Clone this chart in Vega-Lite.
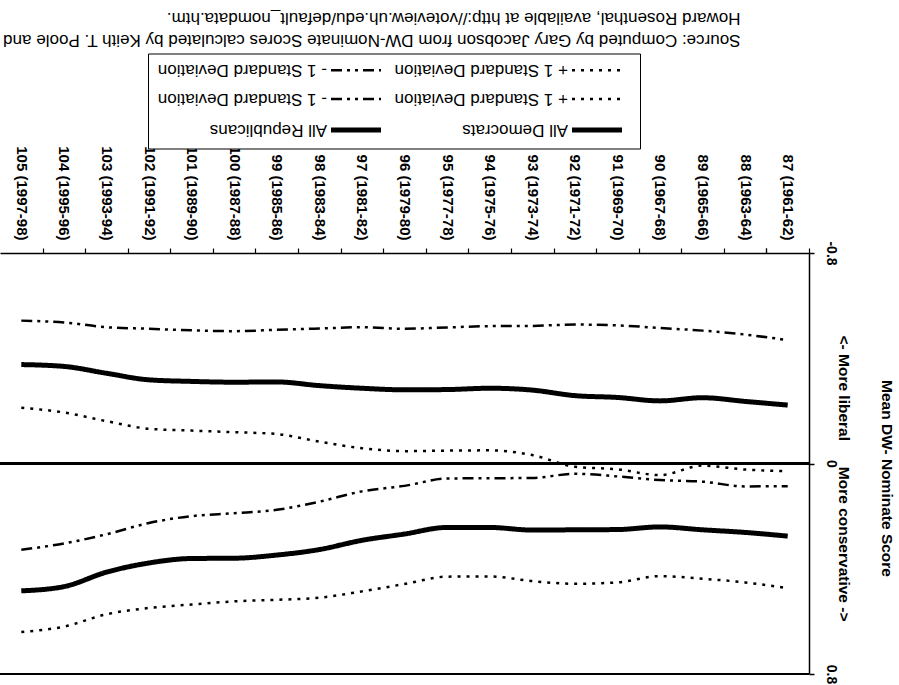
{
  "$schema": "https://vega.github.io/schema/vega-lite/v6.json",
  "width": 809,
  "height": 421,
  "autosize": "none",
  "padding": {"left": 0, "top": 253, "right": 90, "bottom": 11},
  "background": "white",
  "config": {"view": {"stroke": null}, "font": "Liberation Sans"},
  "data": {
    "values": [
      {"congress": "87 (1961-62)", "D": -0.222, "Dp": 0.029, "Dm": -0.469, "R": 0.276, "Rp": 0.474, "Rm": 0.086},
      {"congress": "88 (1963-64)", "D": -0.236, "Dp": 0.023, "Dm": -0.49, "R": 0.262, "Rp": 0.452, "Rm": 0.087},
      {"congress": "89 (1965-66)", "D": -0.25, "Dp": 0.008, "Dm": -0.505, "R": 0.252, "Rp": 0.438, "Rm": 0.069},
      {"congress": "90 (1967-68)", "D": -0.238, "Dp": 0.044, "Dm": -0.515, "R": 0.241, "Rp": 0.428, "Rm": 0.063},
      {"congress": "91 (1969-70)", "D": -0.251, "Dp": 0.022, "Dm": -0.525, "R": 0.251, "Rp": 0.452, "Rm": 0.049},
      {"congress": "92 (1971-72)", "D": -0.258, "Dp": 0.012, "Dm": -0.528, "R": 0.252, "Rp": 0.457, "Rm": 0.039},
      {"congress": "93 (1973-74)", "D": -0.279, "Dp": -0.032, "Dm": -0.523, "R": 0.253, "Rp": 0.447, "Rm": 0.055},
      {"congress": "94 (1975-76)", "D": -0.286, "Dp": -0.05, "Dm": -0.522, "R": 0.243, "Rp": 0.429, "Rm": 0.056},
      {"congress": "95 (1977-78)", "D": -0.281, "Dp": -0.049, "Dm": -0.517, "R": 0.243, "Rp": 0.43, "Rm": 0.057},
      {"congress": "96 (1979-80)", "D": -0.28, "Dp": -0.047, "Dm": -0.512, "R": 0.268, "Rp": 0.458, "Rm": 0.085},
      {"congress": "97 (1981-82)", "D": -0.286, "Dp": -0.058, "Dm": -0.518, "R": 0.292, "Rp": 0.486, "Rm": 0.106},
      {"congress": "98 (1983-84)", "D": -0.296, "Dp": -0.083, "Dm": -0.513, "R": 0.327, "Rp": 0.51, "Rm": 0.145},
      {"congress": "99 (1985-86)", "D": -0.31, "Dp": -0.112, "Dm": -0.508, "R": 0.348, "Rp": 0.518, "Rm": 0.176},
      {"congress": "100 (1987-88)", "D": -0.309, "Dp": -0.119, "Dm": -0.503, "R": 0.36, "Rp": 0.524, "Rm": 0.189},
      {"congress": "101 (1989-90)", "D": -0.312, "Dp": -0.125, "Dm": -0.506, "R": 0.361, "Rp": 0.536, "Rm": 0.2},
      {"congress": "102 (1991-92)", "D": -0.318, "Dp": -0.132, "Dm": -0.512, "R": 0.378, "Rp": 0.549, "Rm": 0.226},
      {"congress": "103 (1993-94)", "D": -0.343, "Dp": -0.161, "Dm": -0.518, "R": 0.413, "Rp": 0.573, "Rm": 0.269},
      {"congress": "104 (1995-96)", "D": -0.369, "Dp": -0.194, "Dm": -0.536, "R": 0.468, "Rp": 0.62, "Rm": 0.304},
      {"congress": "105 (1997-98)", "D": -0.376, "Dp": -0.212, "Dm": -0.543, "R": 0.484, "Rp": 0.64, "Rm": 0.328}
    ]
  },
  "layer": [
    {
      "mark": {"type": "rule", "color": "black", "strokeWidth": 1.5},
      "encoding": {
        "y": {"datum": 0, "type": "quantitative", "scale": {"domain": [-0.8, 0.8], "reverse": true, "nice": false, "zero": false}}
      }
    },
    {
      "mark": {"type": "rule", "color": "black", "strokeWidth": 1.5},
      "encoding": {
        "y": {"datum": 0.8, "type": "quantitative", "scale": {"domain": [-0.8, 0.8], "reverse": true, "nice": false, "zero": false}}
      }
    },
    {
      "transform": [{"fold": ["D", "R", "Dp", "Dm", "Rp", "Rm"], "as": ["series", "score"]}],
      "mark": {"type": "line", "color": "black", "interpolate": "monotone", "strokeCap": "butt"},
      "encoding": {
        "x": {
          "field": "congress",
          "type": "ordinal",
          "sort": null,
          "bandPosition": 0.5,
          "scale": {"type": "band", "paddingInner": 0, "paddingOuter": 0, "reverse": true},
          "axis": {
            "orient": "top",
            "ticks": true,
            "tickBand": "extent",
            "grid": false,
            "domain": true,
            "domainColor": "black",
            "domainWidth": 1.5,
            "tickColor": "black",
            "tickSize": 5,
            "tickWidth": 1.2,
            "labelAngle": 90,
            "labelAlign": "right",
            "labelBaseline": "middle",
            "labelPadding": 8,
            "labelFontSize": 15,
            "labelFontWeight": "bold",
            "labelColor": "black",
            "labelFont": "Liberation Sans",
            "labelLimit": 200,
            "labelOverlap": false,
            "title": ["Source: Computed by Gary Jacobson from DW-Nominate Scores calculated by Keith T. Poole and", "Howard Rosenthal, available at http://voteview.uh.edu/default_nomdata.htm."],
            "titleAngle": 180,
            "titleX": 740,
            "titleY": -214,
            "titleAlign": "left",
            "titleBaseline": "middle",
            "titleLineHeight": 22,
            "titleFontSize": 17,
            "titleFontWeight": "normal",
            "titleColor": "black",
            "titleFont": "Liberation Sans"
          }
        },
        "y": {
          "field": "score",
          "type": "quantitative",
          "scale": {"domain": [-0.8, 0.8], "reverse": true, "nice": false, "zero": false},
          "axis": {
            "orient": "right",
            "values": [-0.8, 0, 0.8],
            "labelExpr": "datum.value == 0 ? '0' : (datum.value < 0 ? '-' : '') + format(abs(datum.value), '.1f')",
            "grid": false,
            "domain": true,
            "ticks": true,
            "domainColor": "black",
            "domainWidth": 1.5,
            "tickColor": "black",
            "tickSize": 5,
            "tickWidth": 1.5,
            "labelAngle": 90,
            "labelAlign": "center",
            "labelBaseline": "middle",
            "labelPadding": 16,
            "labelFontSize": 14,
            "labelFontWeight": "bold",
            "labelColor": "black",
            "labelFont": "Liberation Sans",
            "labelOverlap": false,
            "labelFlush": false,
            "title": ["Mean DW- Nominate Score", "<- More liberal\u00a0\u00a0\u00a0\u00a0\u00a0\u00a0More conservative ->"],
            "titleAngle": 90,
            "titleX": 77,
            "titleY": 225,
            "titleAlign": "center",
            "titleBaseline": "middle",
            "titleLineHeight": 43,
            "titleFontSize": 15.5,
            "titleFontWeight": "bold",
            "titleColor": "black",
            "titleFont": "Liberation Sans"
          }
        },
        "strokeDash": {
          "field": "series",
          "type": "nominal",
          "scale": {
            "domain": ["Rm", "Rp", "Dm", "Dp", "R", "D"],
            "range": [[11, 5, 3, 5, 3, 5], [3, 6], [11, 5, 3, 5, 3, 5], [3, 6], [1, 0], [1, 0]]
          },
          "legend": {
            "title": null,
            "orient": "none",
            "legendX": 148,
            "legendY": -199.5,
            "direction": "horizontal",
            "columns": 2,
            "padding": 8,
            "strokeColor": "black",
            "fillColor": "white",
            "cornerRadius": 0,
            "rowPadding": 11,
            "columnPadding": 3,
            "symbolType": "stroke",
            "symbolSize": 100,
            "symbolStrokeColor": "black",
            "labelFontSize": 17,
            "labelColor": "black",
            "labelFont": "Liberation Sans",
            "labelLimit": 300,
            "labelExpr": "datum.value == 'D' ? 'All Democrats' : datum.value == 'R' ? 'All Republicans' : (datum.value == 'Dp' || datum.value == 'Rp') ? '+ 1 Standard Deviation' : '- 1 Standard Deviation'",
            "encode": {
              "labels": {"update": {"angle": {"value": 180}, "align": {"value": "left"}, "baseline": {"value": "middle"}, "x": {"value": 171}}},
              "symbols": {"update": {
                "x": {"value": 200},
                "opacity": {"value": 1},
                "shape": {"value": "M-5,0L5,0"},
                "size": {"value": 100},
                "fill": {"value": "transparent"},
                "stroke": {"value": "black"},
                "strokeDash": {"scale": "strokeDash", "field": "value"},
                "strokeWidth": {"signal": "datum.value == 'D' || datum.value == 'R' ? 5 : 2.5"}
              }}
            }
          }
        },
        "strokeWidth": {
          "field": "series",
          "type": "nominal",
          "scale": {
            "type": "ordinal",
            "domain": ["Rm", "Rp", "Dm", "Dp", "R", "D"],
            "range": [2.5, 2.5, 2.5, 2.5, 5, 5]
          },
          "legend": null
        }
      }
    }
  ]
}
